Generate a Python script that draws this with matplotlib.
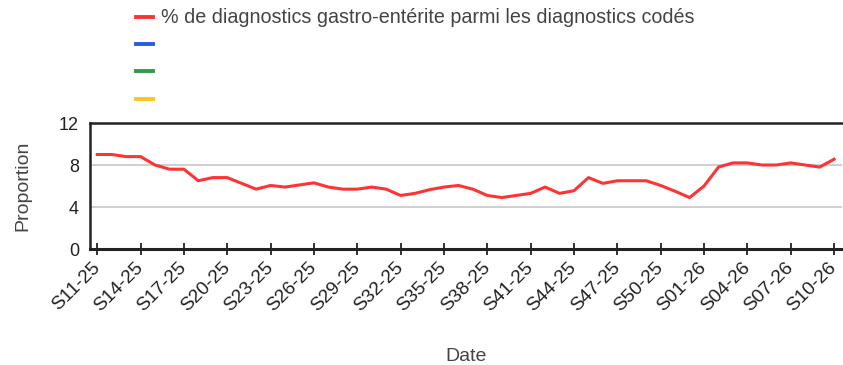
import matplotlib
matplotlib.use('Agg')
import matplotlib.pyplot as plt
from matplotlib.lines import Line2D

plt.rcParams['font.family'] = ['Liberation Sans', 'DejaVu Sans']

# Weekly labels S11-25 .. S10-26
weeks_2025 = [f'S{w:02d}-25' for w in range(11, 53)]
weeks_2026 = [f'S{w:02d}-26' for w in range(1, 11)]
weeks = weeks_2025 + weeks_2026

# % of gastro-enteritis diagnoses among coded diagnoses
gastro_pct = [
    9.0, 9.0, 8.8, 8.8, 8.0, 7.6, 7.6, 6.5, 6.8, 6.8,
    6.25, 5.7, 6.05, 5.9, 6.1, 6.3, 5.9, 5.7, 5.7, 5.9,
    5.7, 5.1, 5.3, 5.65, 5.9, 6.05, 5.7, 5.1, 4.9, 5.1,
    5.3, 5.9, 5.3, 5.55, 6.8, 6.25, 6.5, 6.5, 6.5, 6.05,
    5.5, 4.9, 6.0, 7.8, 8.2, 8.2, 8.0, 8.0, 8.2, 8.0,
    7.8, 8.55,
]

legend_labels = ['% de diagnostics gastro-entérite parmi les diagnostics codés', ' ', ' ', ' ']
legend_colors = ['#ff3333', '#2a5be0', '#2e9a4a', '#fcc61e']

text_color = '#444444'
tick_color = '#222222'

fig = plt.figure(figsize=(8.43, 3.65), dpi=100)
ax = fig.add_axes([90 / 843, 1 - 249 / 365, 752 / 843, 126 / 365])

x = list(range(len(weeks)))
ax.plot(x, gastro_pct, color=legend_colors[0], linewidth=2.2, solid_joinstyle='round')

ax.set_xlim(-0.5, len(weeks) - 0.45)
ax.set_ylim(0, 12)
ax.set_yticks([0, 4, 8, 12])
ax.set_xticks(x[::3])
ax.set_xticklabels(weeks[::3], rotation=45, ha='right', va='center',
                   rotation_mode='anchor', fontsize=13.8, color=tick_color)
ax.tick_params(axis='x', direction='inout', length=9, width=1.3, pad=7, colors=tick_color)
ax.tick_params(axis='y', length=0, pad=8, labelsize=13, labelcolor=tick_color)

ax.grid(axis='y', color='#cccccc', linewidth=1.3)
ax.set_axisbelow(True)
for side in ['left', 'bottom', 'top']:
    ax.spines[side].set_color(tick_color)
ax.spines['bottom'].set_linewidth(2.2)
ax.spines['left'].set_linewidth(1.8)
ax.spines['top'].set_linewidth(1.8)
ax.spines['right'].set_visible(False)

ax.set_ylabel('Proportion', fontsize=14, color=text_color, labelpad=20)
ax.set_xlabel('Date', fontsize=14, color=text_color, va='center')
ax.xaxis.set_label_coords(0.5, -0.85)

handles = [Line2D([0], [0], color=c, linewidth=2.8) for c in legend_colors]
fig.legend(handles, legend_labels, loc='upper left', bbox_to_anchor=(123 / 843, 1.012),
           frameon=False, fontsize=14.2, handlelength=0.86, handletextpad=0.4,
           labelspacing=0.43, borderaxespad=0.25, labelcolor=text_color)

fig.savefig('out.png', dpi=100)
